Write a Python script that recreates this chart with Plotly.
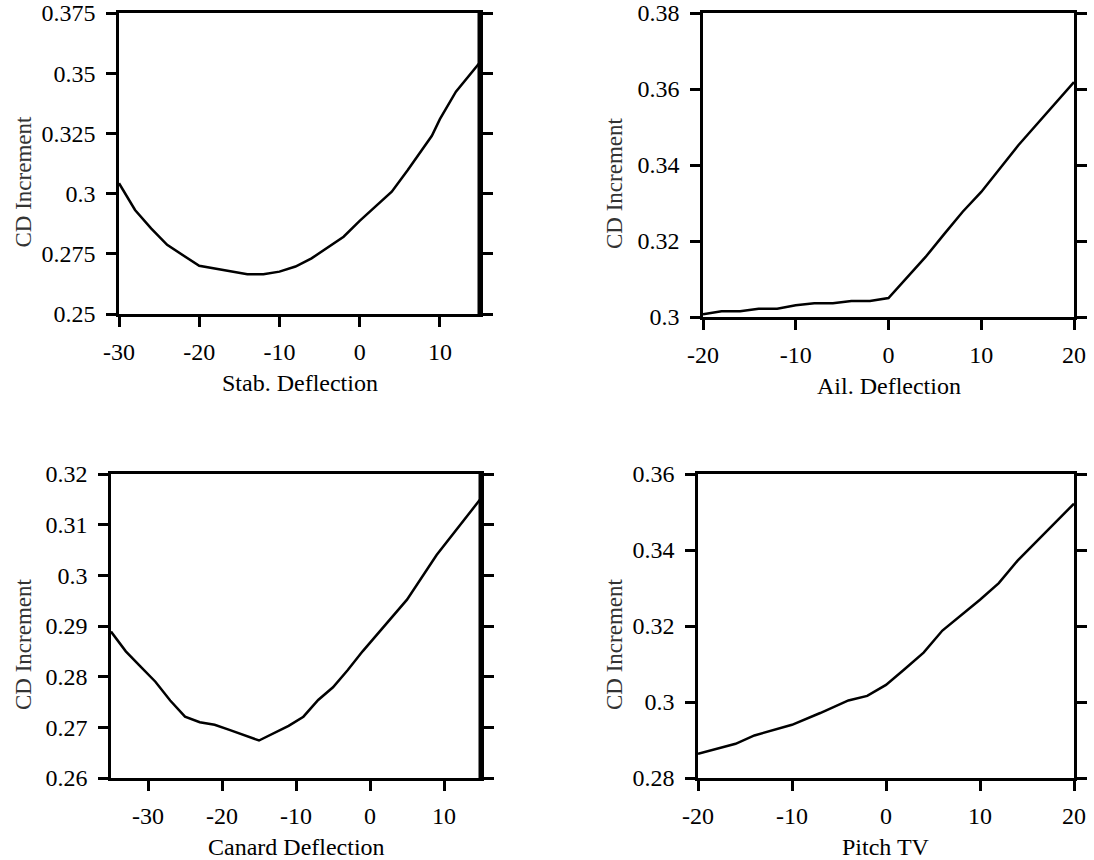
import plotly.graph_objects as go

# ---- data ----
stab_x = [-30, -28, -26, -24, -20, -14, -12, -10, -8, -6, -2, 0, 4, 6, 9, 10, 12, 15]
stab_y = [0.3043, 0.2932, 0.2856, 0.2787, 0.2700, 0.2665, 0.2665, 0.2676, 0.2697, 0.2731,
          0.2821, 0.2887, 0.3008, 0.3098, 0.3240, 0.3309, 0.3423, 0.3545]

ail_x = [-20, -18, -16, -14, -12, -10, -8, -6, -4, -2, 0, 4, 6, 8, 10, 14, 20]
ail_y = [0.3007, 0.3015, 0.3015, 0.3022, 0.3022, 0.3031, 0.3036, 0.3036, 0.3042, 0.3042,
         0.3050, 0.3158, 0.3218, 0.3277, 0.3329, 0.3452, 0.3618]

can_x = [-35, -33, -31, -29, -27, -25, -23, -21, -19, -17, -15, -11, -9, -7, -5, -3, -1, 5, 9, 15]
can_y = [0.2889, 0.2850, 0.2820, 0.2790, 0.2753, 0.2721, 0.2710, 0.2705, 0.2695, 0.2684,
         0.2674, 0.2703, 0.2721, 0.2754, 0.2779, 0.2813, 0.2850, 0.2952, 0.3040, 0.3152]

ptv_x = [-20, -18, -16, -14, -10, -7, -4, -2, 0, 2, 4, 6, 10, 12, 14, 20]
ptv_y = [0.2864, 0.2877, 0.2890, 0.2912, 0.2940, 0.2971, 0.3004, 0.3016, 0.3045, 0.3087,
         0.3130, 0.3188, 0.3269, 0.3313, 0.3372, 0.3522]

x_titles = ["Stab. Deflection", "Ail. Deflection", "Canard Deflection", "Pitch TV"]
y_title = "CD Increment"

x_ranges = [[-30, 15], [-20, 20], [-35, 15], [-20, 20]]
x_ticks = [[-30, -20, -10, 0, 10], [-20, -10, 0, 10, 20], [-30, -20, -10, 0, 10], [-20, -10, 0, 10, 20]]
x_ticktext = [["-30", "-20", "-10", "0", "10"], ["-20", "-10", "0", "10", "20"],
              ["-30", "-20", "-10", "0", "10"], ["-20", "-10", "0", "10", "20"]]
y_ranges = [[0.25, 0.375], [0.30, 0.38], [0.26, 0.32], [0.28, 0.36]]
y_ticks = [[0.25, 0.275, 0.3, 0.325, 0.35, 0.375],
           [0.3, 0.32, 0.34, 0.36, 0.38],
           [0.26, 0.27, 0.28, 0.29, 0.3, 0.31, 0.32],
           [0.28, 0.3, 0.32, 0.34, 0.36]]
y_ticktext = [["0.25", "0.275", "0.3", "0.325", "0.35", "0.375"],
              ["0.3", "0.32", "0.34", "0.36", "0.38"],
              ["0.26", "0.27", "0.28", "0.29", "0.3", "0.31", "0.32"],
              ["0.28", "0.3", "0.32", "0.34", "0.36"]]

W, H = 1094, 860
# pixel boxes of plot areas (left, right, top, bottom)
boxes = [(119, 480, 13, 314), (703, 1074, 13, 317), (111, 481, 474, 778), (698, 1074, 474, 778)]

FONT = "Liberation Serif, Times New Roman, serif"

fig = go.Figure()
series = [(stab_x, stab_y), (ail_x, ail_y), (can_x, can_y), (ptv_x, ptv_y)]
layout = dict()
annotations = []
shapes = []
for i, ((xs, ys), (l, r, t, b)) in enumerate(zip(series, boxes)):
    n = "" if i == 0 else str(i + 1)
    fig.add_trace(go.Scatter(x=xs, y=ys, mode="lines", line=dict(color="black", width=2.5),
                             xaxis="x" + n, yaxis="y" + n, showlegend=False, hoverinfo="skip"))
    common = dict(showline=True, linecolor="black", linewidth=2.5, ticks="outside", ticklen=10,
                  tickwidth=2.5, tickcolor="black", showgrid=False, zeroline=False,
                  automargin=False,
                  tickfont=dict(family=FONT, size=24, color="black"))
    layout["xaxis" + n] = dict(domain=[l / W, r / W], range=x_ranges[i], tickmode="array",
                               tickvals=x_ticks[i], ticktext=x_ticktext[i], mirror=True,
                               anchor="y" + n, ticklabelstandoff=4, **common)
    layout["yaxis" + n] = dict(domain=[1 - b / H, 1 - t / H], range=y_ranges[i], tickmode="array",
                               tickvals=y_ticks[i], ticktext=y_ticktext[i], mirror="ticks",
                               anchor="x" + n, ticklabelstandoff=6, **common)
    cx = (l + r) / 2
    annotations.append(dict(text=x_titles[i], xref="paper", yref="paper", x=cx / W,
                            y=1 - (b + 69) / H, showarrow=False, xanchor="center", yanchor="middle",
                            font=dict(family=FONT, size=24, color="black")))
    ytx = 23 if i in (0, 2) else 614
    annotations.append(dict(text=y_title, xref="paper", yref="paper", x=ytx / W,
                            y=1 - ((t + b) / 2 + 18) / H, showarrow=False, textangle=-90,
                            xanchor="center", yanchor="middle",
                            font=dict(family=FONT, size=23, color="#333333")))
    if i in (0, 2):
        shapes.append(dict(type="line", xref="x" + n + " domain", yref="y" + n + " domain",
                           x0=1, x1=1, y0=0, y1=1, line=dict(color="black", width=5)))

fig.update_layout(width=W, height=H, margin=dict(l=0, r=0, t=0, b=0, autoexpand=False),
                  paper_bgcolor="white", plot_bgcolor="white",
                  annotations=annotations, shapes=shapes, **layout)
fig.write_html("out.html")
